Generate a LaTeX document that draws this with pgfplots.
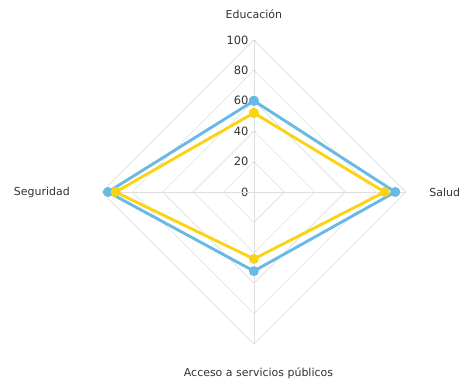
\documentclass[border=0pt]{standalone}
\usepackage{fontspec}
\setmainfont{DejaVu Sans}
\usepackage{pgfplots}
\pgfplotsset{compat=1.18}
\definecolor{serA}{RGB}{104,186,228}
\definecolor{serB}{RGB}{250,212,20}
\definecolor{gridc}{RGB}{222,222,222}
\definecolor{txt}{RGB}{50,50,50}
\begin{document}
\begin{tikzpicture}
\begin{axis}[
  scale only axis, width=304bp, height=304bp,
  xmin=-100, xmax=100, ymin=-100, ymax=100,
  axis x line=none, axis y line=center,
  y axis line style={draw=gridc, line width=0.6pt, -},
  xtick=\empty, ytick={0,20,...,100},
  major tick length=4pt, tick style={draw=gridc},
  yticklabel style={font=\fontsize{11.5}{13}\selectfont, text=txt},
  /pgf/number format/assume math mode=true,
  clip=false,
]
\path (axis cs:-167,-127.6) rectangle (axis cs:142.8,126.3);
% grid
\addplot[gridc, line width=0.6pt, forget plot] coordinates {(0,20) (20,0) (0,-20) (-20,0) (0,20)};
\addplot[gridc, line width=0.6pt, forget plot] coordinates {(0,40) (40,0) (0,-40) (-40,0) (0,40)};
\addplot[gridc, line width=0.6pt, forget plot] coordinates {(0,60) (60,0) (0,-60) (-60,0) (0,60)};
\addplot[gridc, line width=0.6pt, forget plot] coordinates {(0,80) (80,0) (0,-80) (-80,0) (0,80)};
\addplot[gridc, line width=0.6pt, forget plot] coordinates {(0,100) (100,0) (0,-100) (-100,0) (0,100)};
\addplot[gridc, line width=0.6pt, forget plot] coordinates {(-100,0) (100,0)};
% series (Educacion, Salud, Acceso, Seguridad)
\addplot[serA, line width=2.9pt, line join=round, mark=*, mark size=3.5pt] coordinates {(0,60) (93,0) (0,-52) (-96,0) (0,60)};
\addplot[serB, line width=2.9pt, line join=round, mark=*, mark size=3.5pt] coordinates {(0,52) (86,0) (0,-44) (-91,0) (0,52)};
% category labels
\node[font=\fontsize{11}{13}\selectfont, text=txt] at (axis cs:0,117) {Educación};
\node[font=\fontsize{11}{13}\selectfont, text=txt] at (axis cs:125.5,0) {Salud};
\node[font=\fontsize{11}{13}\selectfont, text=txt] at (axis cs:-139.5,0) {Seguridad};
\node[font=\fontsize{11}{13}\selectfont, text=txt] at (axis cs:3,-119) {Acceso a servicios públicos};
\end{axis}
\end{tikzpicture}
\end{document}
